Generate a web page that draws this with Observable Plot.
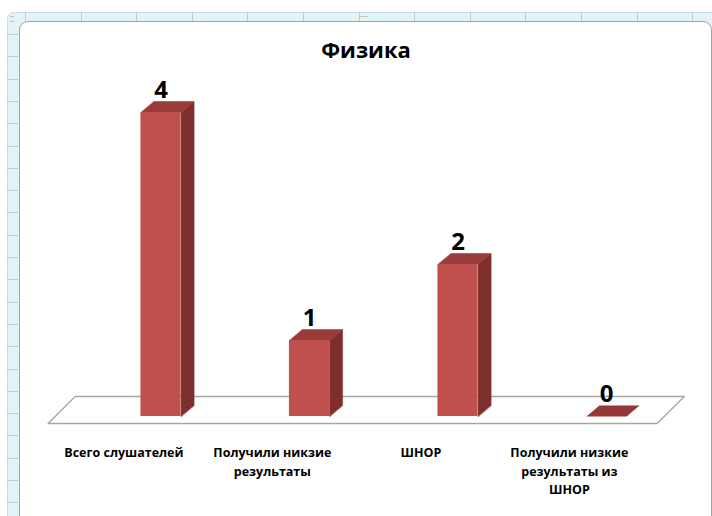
<!DOCTYPE html>
<html><head><meta charset="utf-8">
<script src="https://cdn.jsdelivr.net/npm/d3@7"></script>
<script src="https://cdn.jsdelivr.net/npm/@observablehq/plot@0.6"></script>
<style>
html,body{margin:0;padding:0;background:#fff}
body{width:712px;height:516px;overflow:hidden;position:relative;font-family:"Open Sans",sans-serif}
#band{position:absolute;left:7px;top:12px;width:740px;height:540px;background:#e2f3f6;border:1px solid #c9dfe4;border-radius:7px 0 0 0}
#box{position:absolute;left:19px;top:21px;width:691px;height:520px;background:#fff;border:1.5px solid #a3a3a3;border-radius:9px}
.tk{position:absolute;background:#bfcdd1}
.dots{position:absolute;font-size:8px;line-height:8px;color:#666;letter-spacing:0px}
#title{position:absolute;left:0;width:732px;top:34px;text-align:center;font-family:"Open Sans",sans-serif;font-weight:700;font-size:22px;color:#000}
#chart{position:absolute;left:0;top:0}
</style>
</head><body>
<div id="band"></div>
<div id="ticks"></div>
<div id="box"></div>
<div class="dots" style="left:360px;top:12px">····</div>
<div class="dots" style="left:10px;top:15px">⁚⁚</div>
<div id="title">Физика</div>
<div id="chart"></div>
<script>
// data
const categories = ["Всего слушателей", "Получили никзие\nрезультаты", "ШНОР", "Получили низкие\nрезультаты из\nШНОР"];
const values = [4, 1, 2, 0];
const valueLabels = ["4", "1", "2", "0"];

// spreadsheet frame ticks (decoration)
const tkEl = document.getElementById("ticks");
for (let x = 25; x < 712; x += 55.6) {
  const d = document.createElement("div"); d.className = "tk";
  d.style.cssText = `left:${x}px;top:12px;width:1px;height:9px`; tkEl.appendChild(d);
}
for (let y = 34; y < 516; y += 22.3) {
  const d = document.createElement("div"); d.className = "tk";
  d.style.cssText = `left:7px;top:${y}px;width:11px;height:1px`; tkEl.appendChild(d);
}

// geometry (data units)
const halfW = 20 / 148, depX = 13 / 148, depY = 11 / 76;
const rows = values.map((v, i) => ({i, v, label: valueLabels[i], cat: categories[i]}));

const sideFaces = rows.filter(d => d.v > 0).flatMap(d => [
  {id: d.i, x: d.i + halfW, y: 0},
  {id: d.i, x: d.i + halfW, y: d.v},
  {id: d.i, x: d.i + halfW + depX, y: d.v + depY},
  {id: d.i, x: d.i + halfW + depX, y: depY}
]);
const topFaces = rows.flatMap(d => [
  {id: d.i, x: d.i - halfW, y: d.v, z: d.v},
  {id: d.i, x: d.i + halfW, y: d.v, z: d.v},
  {id: d.i, x: d.i + halfW + depX, y: d.v + depY, z: d.v},
  {id: d.i, x: d.i - halfW + depX, y: d.v + depY, z: d.v}
]);
const floorPoly = [
  {x: -0.76, y: -0.092}, {x: -0.578, y: 0.263}, {x: 3.524, y: 0.263}, {x: 3.341, y: -0.092}
];

const chart = Plot.plot({
  width: 712, height: 516,
  marginTop: 0, marginBottom: 0, marginLeft: 0, marginRight: 0,
  x: {domain: [0, 3], range: [160.5, 606], axis: null},
  y: {domain: [0, 4], range: [416, 112], axis: null},
  style: {background: "transparent", overflow: "visible", fontFamily: "Open Sans, sans-serif"},
  marks: [
    Plot.line(floorPoly, {x: "x", y: "y", curve: "linear-closed", fill: "#fff", stroke: "#a6a6a6", strokeWidth: 1.3}),
    Plot.line(sideFaces, {x: "x", y: "y", z: "id", curve: "linear-closed", fill: "#7e2f2d", stroke: "#7e2f2d", strokeWidth: 0.5}),
    Plot.line(topFaces.filter(d => d.z > 0), {x: "x", y: "y", z: "id", curve: "linear-closed", fill: "#983b39", stroke: "#983b39", strokeWidth: 0.5}),
    Plot.line(topFaces.filter(d => d.z === 0), {x: "x", y: "y", z: "id", curve: "linear-closed", fill: "#953735", stroke: "none"}),
    Plot.rect(rows.filter(d => d.v > 0), {x1: d => d.i - halfW, x2: d => d.i + halfW, y1: 0, y2: "v", fill: "#c0504d"}),
    Plot.text(rows, {x: "i", y: "v", text: "label", dy: -15, lineAnchor: "bottom", fontSize: 24, fontWeight: "bold", fill: "#000"}),
    Plot.text(rows, {x: d => d.i - 0.25, y: 0, text: "cat", dy: 27, lineAnchor: "top", fontSize: 12.5, fontWeight: "bold", lineHeight: 1.5, fill: "#000"})
  ]
});
document.getElementById("chart").appendChild(chart);
</script>
</body></html>
